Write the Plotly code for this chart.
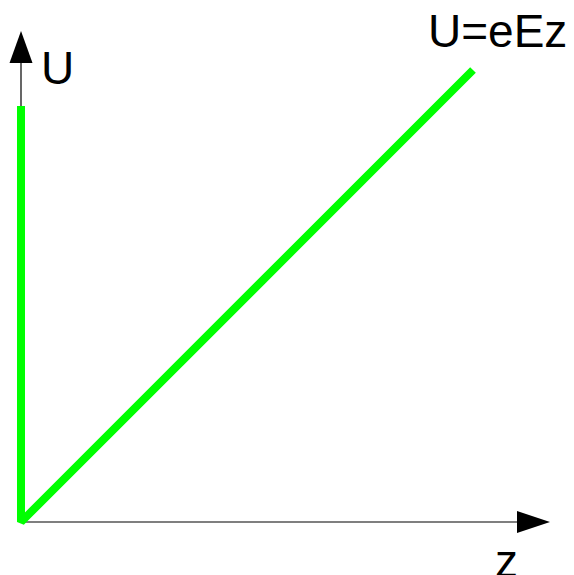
import plotly.graph_objects as go

# Data (arbitrary units, origin at the axes' crossing)
z_vals = [0, 0, 452]
u_vals = [416, 0, 452]
axis_labels = ["U", "z"]
formula_label = "U=eEz"

W, H = 574, 575
OFF = 8  # page body margin
ox, oy = 21 - OFF, 522 - OFF
x_range = [-ox, W - ox]
y_range = [-(H - oy), oy]

fig = go.Figure()
fig.add_trace(go.Scatter(x=z_vals, y=u_vals, mode="lines",
                         line=dict(color="#00ff00", width=8),
                         hoverinfo="skip", showlegend=False))

shapes = [
    dict(type="line", x0=0, y0=0, x1=0, y1=459, line=dict(color="black", width=1.2), layer="below"),
    dict(type="path", path="M -11.5,459 L 11.5,459 L 0,491 Z", fillcolor="black", line=dict(width=0)),
    dict(type="line", x0=0, y0=0, x1=496, y1=0, line=dict(color="#555555", width=1.5), layer="below"),
    dict(type="path", path="M 496,-11 L 496,11 L 529,0 Z", fillcolor="black", line=dict(width=0)),
]

font = dict(family="Liberation Sans, Arial, sans-serif", size=46, color="black")
annotations = [
    dict(x=36, y=454, text=axis_labels[0], showarrow=False, font=font, xanchor="center", yanchor="middle"),
    dict(x=485, y=-39, text=axis_labels[1], showarrow=False, font=font, xanchor="center", yanchor="middle"),
    dict(x=476, y=491, text=formula_label, showarrow=False, font=font, xanchor="center", yanchor="middle"),
]

fig.update_layout(
    width=W, height=H,
    margin=dict(l=0, r=0, t=0, b=0),
    paper_bgcolor="white", plot_bgcolor="white",
    xaxis=dict(range=x_range, visible=False, fixedrange=True),
    yaxis=dict(range=y_range, visible=False, fixedrange=True),
    shapes=shapes, annotations=annotations,
)

fig.write_html("out.html", config={"displayModeBar": False})
